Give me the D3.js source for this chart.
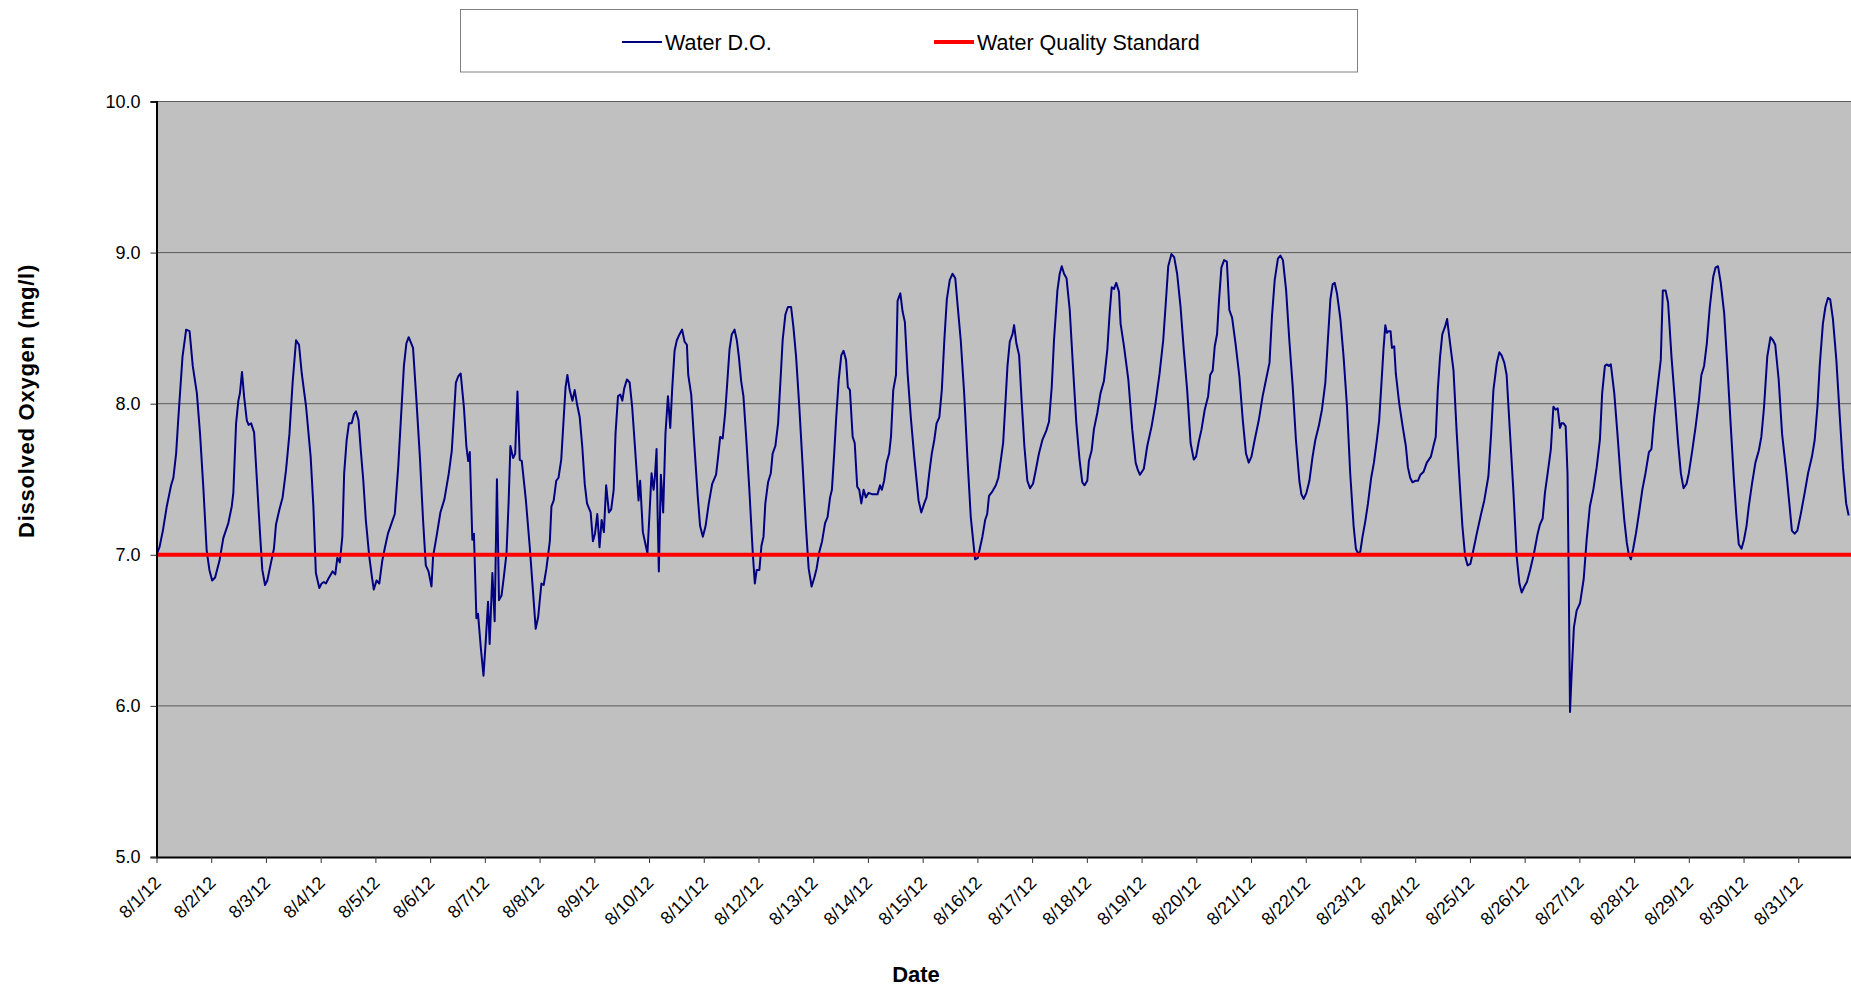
<!DOCTYPE html>
<html>
<head>
<meta charset="utf-8">
<title>Water D.O.</title>
<script src="https://cdn.jsdelivr.net/npm/d3@7"></script>
<style>
    body { margin: 0; background: #ffffff; }
    svg { display: block; font-family: "Liberation Sans", Arial, sans-serif; }
</style>
</head>
<body>
<svg id="drawing_region"></svg>
<script>
// hours after 8/1/12 00:00 and the dissolved oxygen reading (mg/l) at that time
const hours = [
    0, 1.3, 2.8, 4.5, 6.4, 7.4, 8.6, 9.6, 11.4, 13.0, 14.5, 15.9, 17.7, 19.1, 20.6, 22.0, 23.2, 24.4, 25.7, 27.6,
    29.3, 31.5, 33.0, 33.7, 34.9, 35.9, 36.6, 37.5, 38.4, 39.6, 40.4, 41.5, 42.8, 44.2, 45.4, 46.4, 47.6, 48.6, 50.1, 51.5,
    52.4, 53.9, 55.3, 56.8, 58.3, 59.7, 61.2, 62.5, 63.7, 65.6, 67.6, 68.8, 69.9, 71.4, 72.4, 73.4, 74.3, 75.3, 77.2, 78.4,
    79.3, 80.4, 81.5, 82.3, 83.4, 84.4, 85.6, 86.6, 87.5, 88.6, 89.6, 90.7, 91.8, 93.3, 94.5, 95.3, 96.5, 97.7, 99.0, 100.2,
    101.5, 103.1, 104.5, 106.0, 107.0, 108.5, 109.6, 110.6, 112.5, 114.0, 115.5, 116.9, 118.1, 119.3, 120.6, 121.3, 122.8, 124.5, 126.3, 128.2,
    129.5, 130.4, 131.3, 132.3, 133.4, 134.8, 135.9, 136.7, 137.4, 138.5, 139.2, 140.3, 141.0, 142.2, 143.4, 144.4, 145.4, 146.1, 147.3, 148.3,
    149.3, 150.2, 151.3, 152.3, 153.5, 154.4, 155.2, 156.4, 157.3, 158.3, 159.3, 160.2, 162.0, 163.7, 165.2, 166.3, 167.4, 168.8, 169.8, 171.0,
    172.5, 173.2, 174.2, 175.3, 176.3, 177.5, 178.6, 179.4, 180.2, 181.2, 182.4, 183.4, 184.4, 185.6, 186.7, 187.8, 188.8, 190.4, 191.4, 192.3,
    193.3, 194.3, 195.2, 196.2, 197.2, 198.4, 199.4, 200.5, 201.3, 202.4, 203.4, 204.3, 205.1, 206.3, 207.5, 208.6, 209.8, 210.7, 211.4, 212.1,
    213.3, 214.3, 215.3, 216.2, 217.1, 218.0, 218.6, 219.3, 219.7, 220.3, 221.2, 222.2, 223.2, 224.3, 225.3, 226.2, 227.2, 228.2, 229.4, 230.5,
    231.6, 232.6, 233.2, 234.5, 235.9, 237.4, 238.4, 239.6, 240.8, 242.2, 243.7, 245.4, 246.3, 247.2, 248.3, 249.4, 250.4, 251.3, 252.3, 253.5,
    254.5, 255.4, 256.4, 257.4, 258.6, 260.0, 261.5, 262.4, 263.2, 264.4, 265.3, 266.2, 267.0, 268.2, 269.4, 270.2, 271.4, 272.6, 273.6, 274.6,
    275.8, 276.9, 278.3, 279.3, 280.5, 281.9, 283.4, 284.8, 286.0, 287.3, 288.5, 289.5, 290.7, 291.9, 293.2, 294.3, 295.4, 296.2, 297.2, 298.1,
    299.2, 300.3, 301.3, 302.4, 303.2, 304.1, 305.3, 306.2, 307.3, 308.2, 309.1, 310.1, 311.1, 312.3, 314.0, 316.2, 317.3, 318.1, 319.1, 320.2,
    321.3, 322.1, 323.1, 324.3, 325.0, 326.2, 327.2, 328.2, 329.4, 330.8, 332.3, 334.2, 335.4, 336.7, 337.7, 338.9, 340.0, 341.1, 342.1, 343.3,
    344.4, 345.5, 346.6, 347.9, 349.1, 350.3, 351.4, 352.7, 354.2, 355.6, 357.1, 358.1, 359.0, 360.2, 361.2, 362.2, 363.4, 364.3, 365.1, 366.6,
    368.1, 369.2, 370.3, 371.3, 372.2, 373.2, 374.2, 375.4, 376.1, 377.1, 378.3, 379.4, 380.6, 381.9, 383.1, 384.4, 385.6, 387.0, 388.5, 390.2,
    391.4, 392.6, 393.6, 395.1, 396.1, 397.0, 398.0, 399.1, 400.5, 401.9, 403.4, 404.8, 406.0, 407.0, 408.2, 408.9, 410.1, 411.1, 412.6, 414.0,
    415.5, 417.0, 418.0, 418.9, 419.9, 420.9, 422.1, 422.8, 424.3, 426.2, 427.9, 429.4, 430.4, 431.3, 433.0, 434.5, 436.4, 438.1, 439.9, 441.5,
    442.5, 443.7, 445.1, 446.3, 447.6, 449.1, 450.5, 452.0, 453.5, 454.9, 455.9, 457.1, 458.3, 459.7, 461.2, 462.1, 463.2, 464.1, 465.1, 465.9,
    467.0, 468.2, 469.4, 470.5, 471.7, 473.2, 474.9, 476.4, 477.8, 479.0, 480.2, 481.6, 483.4, 485.1, 486.6, 488.1, 489.2, 490.4, 491.8, 492.9,
    494.0, 495.4, 496.8, 498.3, 499.7, 501.2, 502.1, 503.1, 504.3, 505.6, 507.0, 508.2, 509.7, 511.1, 512.6, 513.7, 514.8, 515.8, 516.7, 517.7,
    519.2, 520.6, 522.1, 523.5, 525.0, 526.0, 526.9, 527.9, 528.9, 530.1, 531.3, 532.7, 533.9, 535.2, 536.2, 537.1, 538.1, 538.9, 539.6, 540.3,
    541.2, 541.8, 542.8, 543.5, 545.0, 546.5, 547.9, 548.8, 549.8, 550.8, 552.0, 553.2, 554.3, 555.7, 557.1, 558.9, 560.0, 561.0, 561.9, 562.9,
    563.9, 565.1, 566.0, 567.3, 568.8, 570.2, 571.7, 572.7, 573.9, 575.0, 576.2, 577.5, 579.0, 580.9, 582.3, 584.1, 585.3, 586.3, 587.8, 588.9,
    589.9, 591.1, 592.1, 593.6, 595.1, 596.5, 597.7, 598.7, 599.9, 601.0, 602.4, 604.1, 605.7, 606.7, 607.9, 608.9, 610.1, 611.5, 612.6, 613.6,
    614.5, 615.5, 616.2, 617.1, 618.0, 618.8, 619.3, 619.9, 620.6, 621.6, 622.8, 624.3, 625.9, 627.2, 628.6, 630.1, 631.6, 633.0, 634.0, 635.2,
    635.9, 636.9, 637.8, 639.3, 640.7, 642.2, 643.7, 644.8, 645.7, 646.6, 647.6, 648.8, 650.1, 651.6, 653.0, 654.5, 655.6, 656.8, 658.3, 659.7,
    660.6, 661.8, 662.9, 664.4, 665.9, 667.3, 668.5, 669.7, 671.0, 672.0, 673.5, 675.0, 676.4, 677.5, 678.7, 679.9, 681.2, 682.7, 683.7, 684.8,
    686.0, 687.5, 688.9, 690.4, 691.8, 692.9, 693.9, 695.1, 696.2, 697.3, 698.3, 699.7, 701.2, 702.7, 703.8, 705.0, 706.4, 707.8, 708.9, 709.9,
    711.4, 712.9, 714.8, 716.2, 717.2, 718.4, 719.6, 721.1, 722.8, 724.3, 726.0, 727.2, 728.4, 729.4, 730.8, 731.9, 733.0, 734.0, 735.2, 736.7,
    738.1, 739.6, 741.0, 742.1
];

const doValues = [
    7.00, 7.05, 7.16, 7.32, 7.46, 7.51, 7.67, 7.91, 8.31, 8.49, 8.48, 8.25, 8.07, 7.80, 7.43, 7.03, 6.90, 6.83, 6.85, 6.96,
    7.11, 7.21, 7.32, 7.41, 7.87, 8.02, 8.07, 8.21, 8.05, 7.89, 7.86, 7.87, 7.81, 7.45, 7.14, 6.90, 6.80, 6.83, 6.94, 7.04,
    7.20, 7.30, 7.38, 7.56, 7.80, 8.14, 8.42, 8.39, 8.20, 7.98, 7.65, 7.32, 6.88, 6.78, 6.81, 6.82, 6.81, 6.84, 6.89, 6.87,
    6.98, 6.95, 7.12, 7.54, 7.76, 7.87, 7.87, 7.93, 7.95, 7.89, 7.69, 7.49, 7.23, 6.99, 6.85, 6.77, 6.83, 6.81, 6.96, 7.05,
    7.14, 7.21, 7.27, 7.58, 7.85, 8.25, 8.40, 8.44, 8.37, 8.02, 7.65, 7.23, 6.93, 6.89, 6.79, 6.99, 7.12, 7.28, 7.37, 7.54,
    7.69, 7.91, 8.14, 8.18, 8.20, 7.98, 7.72, 7.62, 7.68, 7.10, 7.14, 6.58, 6.61, 6.39, 6.20, 6.43, 6.69, 6.41, 6.88, 6.56,
    7.50, 6.70, 6.73, 6.85, 7.01, 7.34, 7.72, 7.64, 7.67, 8.08, 7.63, 7.62, 7.36, 7.05, 6.74, 6.51, 6.59, 6.81, 6.80, 6.91,
    7.09, 7.32, 7.36, 7.49, 7.51, 7.63, 7.91, 8.11, 8.19, 8.09, 8.02, 8.09, 8.00, 7.91, 7.72, 7.47, 7.34, 7.28, 7.09, 7.14,
    7.27, 7.05, 7.23, 7.15, 7.46, 7.28, 7.30, 7.43, 7.80, 8.05, 8.06, 8.02, 8.10, 8.16, 8.14, 7.98, 7.72, 7.52, 7.36, 7.49,
    7.15, 7.08, 7.01, 7.27, 7.54, 7.43, 7.52, 7.70, 7.32, 6.89, 7.53, 7.28, 7.80, 8.05, 7.84, 8.11, 8.35, 8.42, 8.46, 8.49,
    8.41, 8.39, 8.19, 8.06, 7.72, 7.38, 7.19, 7.12, 7.19, 7.34, 7.47, 7.53, 7.65, 7.78, 7.77, 7.94, 8.16, 8.36, 8.46, 8.49,
    8.42, 8.31, 8.15, 8.05, 7.78, 7.43, 7.01, 6.81, 6.90, 6.90, 7.06, 7.12, 7.34, 7.48, 7.54, 7.67, 7.72, 7.87, 8.14, 8.42,
    8.59, 8.64, 8.64, 8.51, 8.31, 7.98, 7.58, 7.19, 6.91, 6.79, 6.85, 6.91, 7.02, 7.09, 7.21, 7.25, 7.38, 7.43, 7.67, 7.91,
    8.16, 8.32, 8.35, 8.29, 8.11, 8.09, 7.78, 7.74, 7.45, 7.43, 7.34, 7.43, 7.38, 7.41, 7.40, 7.40, 7.46, 7.43, 7.49, 7.61,
    7.67, 7.78, 8.09, 8.19, 8.68, 8.73, 8.61, 8.54, 8.20, 7.91, 7.65, 7.36, 7.28, 7.34, 7.38, 7.54, 7.67, 7.76, 7.87, 7.91,
    8.09, 8.42, 8.69, 8.82, 8.86, 8.83, 8.64, 8.42, 8.07, 7.65, 7.25, 7.10, 6.97, 6.98, 7.05, 7.12, 7.23, 7.27, 7.39, 7.42,
    7.46, 7.51, 7.63, 7.74, 7.98, 8.25, 8.41, 8.46, 8.52, 8.40, 8.32, 8.02, 7.72, 7.49, 7.44, 7.47, 7.56, 7.67, 7.76, 7.82,
    7.88, 8.11, 8.42, 8.75, 8.86, 8.91, 8.86, 8.83, 8.62, 8.25, 7.87, 7.63, 7.48, 7.46, 7.49, 7.62, 7.69, 7.83, 7.94, 8.07,
    8.15, 8.36, 8.60, 8.77, 8.76, 8.80, 8.74, 8.53, 8.38, 8.16, 7.83, 7.61, 7.56, 7.53, 7.57, 7.72, 7.85, 8.00, 8.20, 8.42,
    8.64, 8.91, 8.99, 8.97, 8.86, 8.64, 8.36, 8.09, 7.74, 7.63, 7.65, 7.75, 7.83, 7.96, 8.05, 8.19, 8.22, 8.38, 8.46, 8.67,
    8.90, 8.95, 8.94, 8.62, 8.57, 8.40, 8.18, 7.89, 7.67, 7.61, 7.65, 7.76, 7.89, 8.05, 8.16, 8.27, 8.58, 8.82, 8.96, 8.98,
    8.95, 8.75, 8.42, 8.11, 7.76, 7.49, 7.40, 7.37, 7.41, 7.49, 7.65, 7.76, 7.85, 7.96, 8.14, 8.42, 8.69, 8.79, 8.80, 8.73,
    8.56, 8.31, 7.98, 7.54, 7.19, 7.04, 7.01, 7.02, 7.12, 7.22, 7.34, 7.51, 7.61, 7.76, 7.89, 8.11, 8.36, 8.52, 8.47, 8.48,
    8.48, 8.37, 8.38, 8.20, 8.00, 7.85, 7.72, 7.58, 7.51, 7.48, 7.49, 7.49, 7.53, 7.55, 7.61, 7.65, 7.72, 7.78, 8.09, 8.31,
    8.46, 8.51, 8.56, 8.40, 8.22, 7.81, 7.43, 7.19, 6.99, 6.93, 6.94, 7.03, 7.14, 7.27, 7.36, 7.52, 7.80, 8.09, 8.27, 8.34,
    8.32, 8.27, 8.19, 7.80, 7.41, 6.99, 6.81, 6.75, 6.79, 6.82, 6.90, 7.01, 7.14, 7.20, 7.24, 7.41, 7.54, 7.70, 7.98, 7.96,
    7.97, 7.84, 7.87, 7.87, 7.85, 7.54, 6.88, 5.96, 6.21, 6.52, 6.63, 6.68, 6.84, 7.10, 7.32, 7.43, 7.58, 7.76, 8.07, 8.25,
    8.26, 8.25, 8.26, 8.07, 7.80, 7.49, 7.23, 7.08, 7.00, 6.97, 7.04, 7.14, 7.27, 7.43, 7.54, 7.68, 7.70, 7.91, 8.11, 8.29,
    8.75, 8.75, 8.67, 8.31, 8.02, 7.74, 7.54, 7.44, 7.47, 7.54, 7.69, 7.85, 8.02, 8.19, 8.25, 8.40, 8.64, 8.84, 8.90, 8.91,
    8.80, 8.60, 8.25, 7.85, 7.49, 7.25, 7.07, 7.04, 7.10, 7.19, 7.32, 7.47, 7.61, 7.69, 7.78, 7.98, 8.31, 8.44, 8.42, 8.39,
    8.16, 7.80, 7.54, 7.32, 7.16, 7.14, 7.16, 7.27, 7.41, 7.54, 7.65, 7.76, 7.98, 8.25, 8.53, 8.64, 8.70, 8.69, 8.56, 8.29,
    7.94, 7.58, 7.34, 7.26
];

const seriesNames = ["Water D.O.", "Water Quality Standard"];
const standardValue = 7.0;
const yTicks = [5.0, 6.0, 7.0, 8.0, 9.0, 10.0];
const startDate = new Date(2012, 7, 1);
const endDate = new Date(2012, 8, 1);

class DOChart {

    constructor( config, data ) {
        this.config = config;
        this.data = data;
    }

    render() {
        let self = this;
        const p = self.config.plot;

        self.svg = d3.select( self.config.parent )
            .attr('width', self.config.width)
            .attr('height', self.config.height);

        self.xscale = d3.scaleTime()
            .domain( [startDate, endDate] )
            .range( [p.left, p.right] );

        self.yscale = d3.scaleLinear()
            .domain( [5, 10] )
            .range( [p.bottom, p.top] );

        // plot background
        self.svg.append('rect')
            .attr('x', p.left)
            .attr('y', p.top)
            .attr('width', self.config.width - p.left)
            .attr('height', p.bottom - p.top)
            .attr('fill', '#c0c0c0');

        // horizontal gridlines
        self.svg.append('g')
            .selectAll('line')
            .data( yTicks.filter(d => d > 5) )
            .join('line')
            .attr('x1', p.left)
            .attr('x2', self.config.width)
            .attr('y1', d => self.yscale(d))
            .attr('y2', d => self.yscale(d))
            .attr('stroke', '#5a5a5a')
            .attr('stroke-width', 1);

        self.svg.append('clipPath')
            .attr('id', 'plot_clip')
            .append('rect')
            .attr('x', p.left)
            .attr('y', p.top - 2)
            .attr('width', self.config.width - p.left)
            .attr('height', p.bottom - p.top + 4);

        const line = d3.line()
            .x( d => self.xscale(d.date) )
            .y( d => self.yscale(d.value) );

        self.svg.append('path')
            .datum( self.data )
            .attr('clip-path', 'url(#plot_clip)')
            .attr('d', line)
            .attr('fill', 'none')
            .attr('stroke', '#000080')
            .attr('stroke-width', 2)
            .attr('stroke-linejoin', 'round');

        self.svg.append('line')
            .attr('x1', p.left)
            .attr('x2', self.config.width)
            .attr('y1', self.yscale(standardValue))
            .attr('y2', self.yscale(standardValue))
            .attr('stroke', '#ff0000')
            .attr('stroke-width', 4);

        // y axis
        const yaxis = d3.axisLeft( self.yscale )
            .tickValues( yTicks )
            .tickFormat( d3.format('.1f') )
            .tickSize(6)
            .tickPadding(10);

        const yaxis_group = self.svg.append('g')
            .attr('transform', `translate(${p.left}, 0)`)
            .call( yaxis );
        yaxis_group.select('.domain').attr('stroke', '#000').attr('stroke-width', 2);
        yaxis_group.selectAll('.tick line').attr('stroke', '#333');
        yaxis_group.selectAll('text')
            .attr('fill', '#000')
            .style('font-size', '18px')
            .style('font-family', '"Liberation Sans", Arial, sans-serif');

        // x axis
        const xaxis = d3.axisBottom( self.xscale )
            .tickValues( d3.timeDay.range(startDate, endDate) )
            .tickFormat( d3.timeFormat('%-m/%-d/%y') )
            .tickSize(6)
            .tickSizeOuter(0);

        const xaxis_group = self.svg.append('g')
            .attr('transform', `translate(0, ${p.bottom})`)
            .call( xaxis );
        xaxis_group.select('.domain').attr('stroke', '#000').attr('stroke-width', 2);
        xaxis_group.selectAll('.tick line').attr('stroke', '#333');
        xaxis_group.selectAll('text')
            .attr('x', 0)
            .attr('y', 0)
            .attr('dy', 0)
            .attr('fill', '#000')
            .attr('text-anchor', 'end')
            .attr('transform', 'translate(5, 27) rotate(-45)')
            .style('font-size', '18px')
            .style('font-family', '"Liberation Sans", Arial, sans-serif');

        // axis titles
        self.svg.append('text')
            .attr('transform', 'translate(33.5, 401) rotate(-90)')
            .attr('text-anchor', 'middle')
            .style('font-size', '22px')
            .style('font-weight', 'bold')
            .style('letter-spacing', '0.75px')
            .text('Dissolved Oxygen (mg/l)');

        self.svg.append('text')
            .attr('x', 916)
            .attr('y', 982)
            .attr('text-anchor', 'middle')
            .style('font-size', '22px')
            .style('font-weight', 'bold')
            .text('Date');

        // legend
        const legend = self.svg.append('g');
        legend.append('rect')
            .attr('x', 460.5)
            .attr('y', 9.5)
            .attr('width', 897)
            .attr('height', 62.5)
            .attr('fill', '#ffffff')
            .attr('stroke', '#808080');

        const items = [
            { name: seriesNames[0], color: '#000080', width: 2, x: 622 },
            { name: seriesNames[1], color: '#ff0000', width: 4, x: 934 }
        ];

        items.forEach( item => {
            legend.append('line')
                .attr('x1', item.x)
                .attr('x2', item.x + 40)
                .attr('y1', 42)
                .attr('y2', 42)
                .attr('stroke', item.color)
                .attr('stroke-width', item.width);
            legend.append('text')
                .attr('x', item.x + 43)
                .attr('y', 42)
                .attr('dy', '0.36em')
                .style('font-size', '21.5px')
                .text(item.name);
        });
    }
}

const config = {
    parent: '#drawing_region',
    width: 1851,
    height: 987,
    plot: { left: 156.5, top: 101.5, bottom: 857, right: 1853 }
};

const data = hours.map( (h, i) => ({
    date: new Date(startDate.getTime() + h * 3600 * 1000),
    value: doValues[i]
}));

const chart = new DOChart( config, data );
chart.render();
</script>
</body>
</html>
